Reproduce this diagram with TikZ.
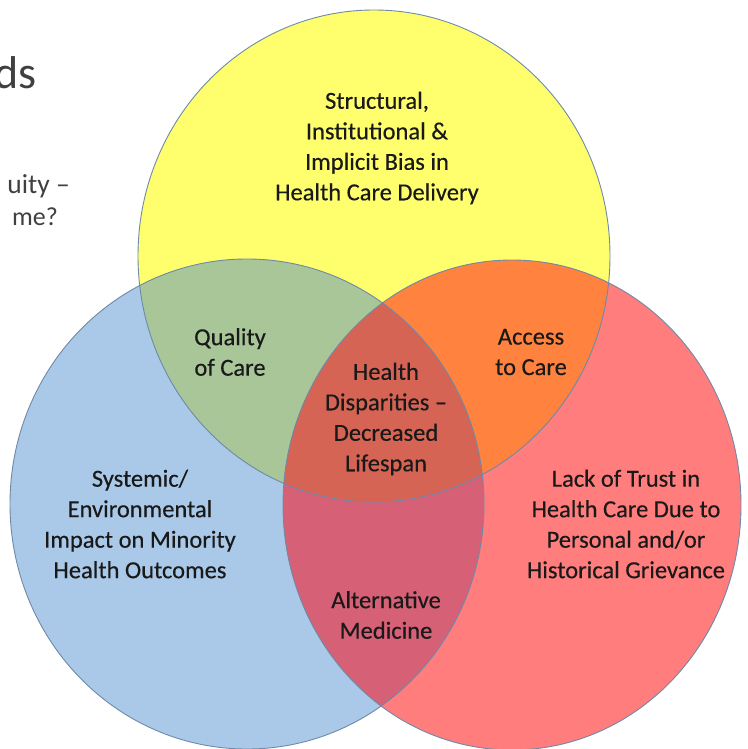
\documentclass[tikz,border=0pt]{standalone}
\usepackage{fontspec}
\setmainfont{Carlito}
\newfontfamily\labelfont[FakeBold=0.35]{Carlito}
\begin{document}
\begin{tikzpicture}[x=1pt,y=-1pt]
  % colours of the three sets and their overlaps
  \definecolor{cyel}{RGB}{255,255,110}
  \definecolor{cblu}{RGB}{170,201,232}
  \definecolor{cred}{RGB}{255,125,125}
  \definecolor{cgrn}{RGB}{168,198,152}
  \definecolor{corg}{RGB}{255,130,62}
  \definecolor{cpur}{RGB}{214,96,118}
  \definecolor{cctr}{RGB}{214,100,84}
  \definecolor{cline}{RGB}{110,138,168}
  \definecolor{ctxt}{RGB}{25,25,25}
  \definecolor{chead}{RGB}{64,64,64}
  \tikzset{
    outline/.style={draw=cline, line width=0.9pt},
    label/.style={text=ctxt, align=center, inner sep=0pt,
      font=\labelfont\fontsize{24.5}{30.5}\selectfont},
    slidetext/.style={text=chead, inner sep=0pt, anchor=base east},
  }
  \def\ellY{(374,256) ellipse [x radius=236pt, y radius=246pt]}
  \def\ellB{(247,504) ellipse [x radius=237pt, y radius=245pt]}
  \def\ellR{(512,505) ellipse [x radius=229pt, y radius=245pt]}

  \useasboundingbox (0,0) rectangle (747,749);
  \fill[white] (0,0) rectangle (747,749);
  \clip (0,0) rectangle (747,749);

  % partial slide text on the left
  \node[slidetext, font=\fontsize{46}{50}\selectfont] (title) at (37,89) {ds};
  \node[slidetext, font=\fontsize{27.5}{31}\selectfont] (line1) at (70,193) {uity –};
  \node[slidetext, font=\fontsize{26}{31}\selectfont] (line2) at (58,225) {me?};

  % set fills
  \fill[cyel] \ellY;
  \fill[cblu] \ellB;
  \fill[cred] \ellR;
  \begin{scope} \clip \ellY; \fill[cgrn] \ellB; \end{scope}
  \begin{scope} \clip \ellY; \fill[corg] \ellR; \end{scope}
  \begin{scope} \clip \ellB; \fill[cpur] \ellR; \end{scope}
  \begin{scope} \clip \ellY; \clip \ellB; \fill[cctr] \ellR; \end{scope}

  % set outlines
  \path[outline] \ellY;
  \path[outline] \ellB;
  \path[outline] \ellR;

  % region labels
  \node[label] (bias) at (377,148)
    {Structural,\\Institutional \&\\Implicit Bias in\\Health Care Delivery};
  \node[label] (quality) at (230,352) {Quality\\of Care};
  \node[label] (access) at (531,352) {Access\\to Care};
  \node[label] (disp) at (386,419)
    {Health\\Disparities –\\Decreased\\Lifespan};
  \node[label] (systemic) at (140,524)
    {Systemic/\\Environmental\\Impact on Minority\\Health Outcomes};
  \node[label] (trust) at (626,524)
    {Lack of Trust in\\Health Care Due to\\Personal and/or\\Historical Grievance};
  \node[label] (alt) at (386,615) {Alternative\\Medicine};
\end{tikzpicture}
\end{document}
